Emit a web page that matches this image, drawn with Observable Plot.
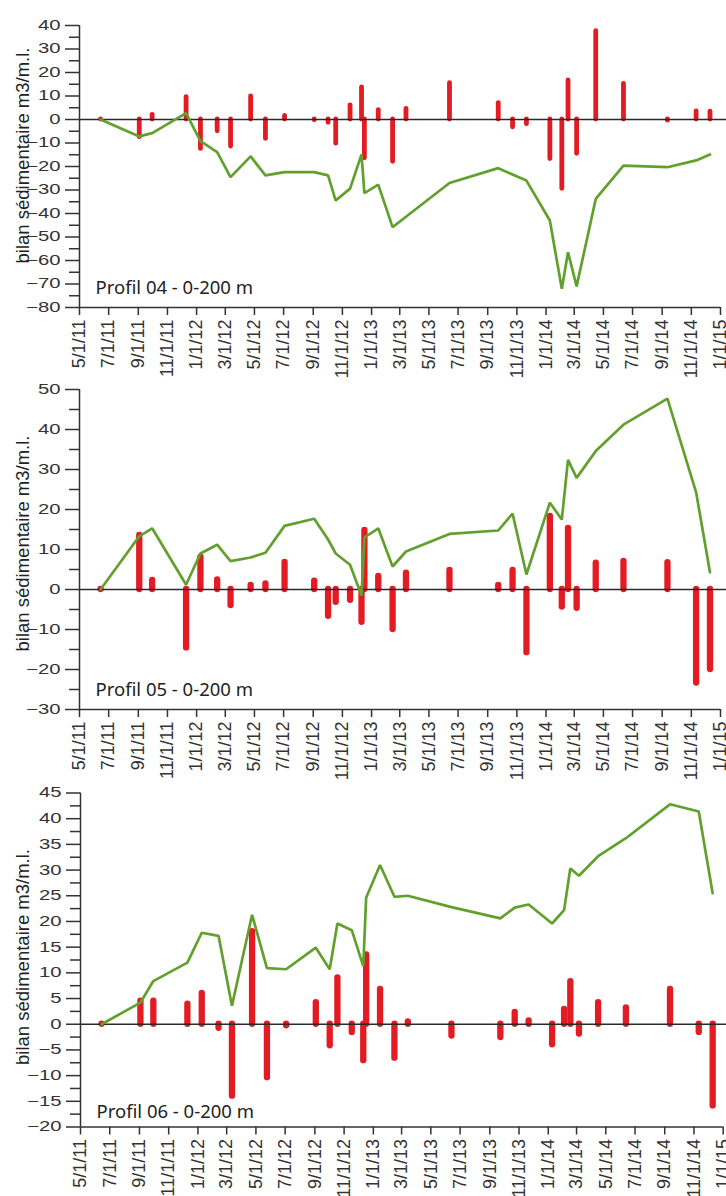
<!DOCTYPE html>
<html><head><meta charset="utf-8">
<script src="https://cdn.jsdelivr.net/npm/d3@7"></script>
<script src="https://cdn.jsdelivr.net/npm/@observablehq/plot@0.6"></script>
<style>
html,body{margin:0;padding:0;background:#fff;}
#chart{width:726px;}
#chart svg{display:block;overflow:visible;}
</style></head><body><div id="chart"></div>
<script>
// survey dates (shared by the three profiles)
const surveyDates = ["2011-06-14","2011-09-03","2011-09-30","2011-12-10","2012-01-09","2012-02-13","2012-03-12","2012-04-23","2012-05-24","2012-07-03","2012-09-03","2012-10-02","2012-10-18","2012-11-17","2012-12-11","2012-12-17","2013-01-15","2013-02-14","2013-03-14","2013-06-13","2013-09-23","2013-10-23","2013-11-21","2014-01-09","2014-02-03","2014-02-16","2014-03-06","2014-04-15","2014-06-12","2014-09-12","2014-11-11","2014-12-10"];

// Profil 04 : bilan entre levés (barres) et bilan cumulé (ligne)
const bilan04 = [0,-7.5,2,9.5,-12.5,-5,-11.5,9.8,-8.2,1.5,-0.3,-1.4,-10.3,6,13.7,-16.5,4,-18,4.5,15.5,7,-3.3,-2,-16.8,-29.5,16.6,-14.6,37.6,15.2,-0.5,3.5,3.3];
const cumul04 = [0,-7.2,-5.8,2.7,-9.2,-13.9,-24.5,-15.7,-23.8,-22.4,-22.4,-23.8,-34.5,-29.4,-14.9,-31.3,-27.7,-45.8,-41.4,-27,-20.7,-23.4,-26,-43,-72,-56.5,-71,-33.8,-19.6,-20.3,-17.4,-14.9];

// Profil 05
const bilan05 = [0,13.5,2.25,-14.6,8.1,2.4,-4,1,1.4,6.8,2.1,-6.7,-3.2,-2.7,-8.2,14.75,3.25,-10,4.1,4.75,1,4.75,-15.8,18.3,-4.4,15.3,-4.7,6.6,7,6.7,-23.4,-20];
const cumul05 = [0,13.3,15.3,1.2,9,11.2,7.1,8,9.2,15.9,17.7,12.5,9,6.2,-1.5,13,15.3,5.75,9.5,13.9,14.75,19,3.75,21.7,17.5,32.4,27.9,34.6,41.2,47.7,24.3,4.3];

// Profil 06
const bilan06 = [0,4.5,4.5,3.9,6,-0.8,-14,18,-10.4,-0.3,4.2,-4.2,9,-1.6,-7.1,13.5,6.8,-6.6,0.45,-2.3,-2.6,2.3,0.65,-4,2.9,8.3,-1.9,4.2,3.2,6.8,-1.6,-15.9];
const cumul06 = [0,4.2,8.4,12,17.8,17.2,3.6,21.3,10.9,10.7,14.9,10.7,19.6,18.3,11.3,24.6,31,24.8,25,22.8,20.6,22.7,23.3,19.6,22.2,30.3,28.9,32.7,36.2,42.8,41.4,25.5];

// tick labels
const xTickLabels = ["5/1/11","7/1/11","9/1/11","11/1/11","1/1/12","3/1/12","5/1/12","7/1/12","9/1/12","11/1/12","1/1/13","3/1/13","5/1/13","7/1/13","9/1/13","11/1/13","1/1/14","3/1/14","5/1/14","7/1/14","9/1/14","11/1/14","1/1/15"];
const yMajor04 = [-80,-70,-60,-50,-40,-30,-20,-10,0,10,20,30,40];
const yMinor04 = [-75,-65,-55,-45,-35,-25,-15,-5,5,15,25,35];
const yMajor05 = [-30,-20,-10,0,10,20,30,40,50];
const yMinor05 = [-25,-15,-5,5,15,25,35,45];
const yMajor06 = [-20,-15,-10,-5,0,5,10,15,20,25,30,35,40,45];
const yMinor06 = [-17.5,-12.5,-7.5,-2.5,2.5,7.5,12.5,17.5,22.5,27.5,32.5,37.5,42.5];
const titles = ["Profil 04 - 0-200 m","Profil 05 - 0-200 m","Profil 06 - 0-200 m"];
const yTitle = "bilan sédimentaire m3/m.l.";

const RED = "#e31b23", GREEN = "#62a02d", AX = "#333";
const parseTick = d3.utcParse("%m/%d/%y");
const xTicks = xTickLabels.map(parseTick);
const fmt = d3.utcFormat("%-m/%-d/%y");
const dates = surveyDates.map(s => new Date(s + "T00:00:00Z"));

function panel(o) {
  const rows = dates.map((d, i) => ({date: d, bar: o.bars[i], cum: o.line[i]}));
  const svg = Plot.plot({
    width: 726, height: o.height,
    marginTop: o.mt, marginBottom: o.mb, marginLeft: o.ml, marginRight: o.mr,
    style: {overflow: "visible", fontFamily: "'Liberation Sans', Arial, sans-serif", color: AX, background: "transparent"},
    x: {type: "utc", domain: [xTicks[0], xTicks[xTicks.length - 1]]},
    y: {domain: o.yDomain},
    marks: [
      Plot.ruleX(rows, {x: "date", y1: 0, y2: "bar", stroke: RED, strokeWidth: o.bw, strokeLinecap: "round"}),
      Plot.ruleY([0], {stroke: "#2a2a2a", strokeWidth: 1.4, insetRight: -6}),
      Plot.line(rows, {x: "date", y: "cum", stroke: GREEN, strokeWidth: 2.7, strokeLinejoin: "miter"}),
      Plot.axisX(xTicks, {tickFormat: fmt, tickRotate: -90, tickSize: 8, tickPadding: 4, fontSize: 18, label: null, stroke: AX, strokeWidth: 1.5, fill: "#333"}),
      Plot.axisY(o.yMajor, {tickSize: 14, tickPadding: 5, fontSize: 14, label: null, stroke: AX, strokeWidth: 1.5, fill: "#333"}),
      Plot.axisY(o.yMinor, {tickSize: 10, tickFormat: () => "", label: null, stroke: AX, strokeWidth: 1.5}),
      Plot.ruleX([xTicks[0]], {stroke: AX, strokeWidth: 1.5}),
      Plot.ruleY([o.yDomain[0]], {stroke: AX, strokeWidth: 1.5}),
      Plot.text([o.title], {frameAnchor: "bottom-left", textAnchor: "start", lineAnchor: "bottom", dx: 16, dy: o.tdy, fontSize: 18.5, fontFamily: "'Noto Sans', sans-serif", fill: "#222"}),
      Plot.text([yTitle], {frameAnchor: "left", rotate: -90, textAnchor: "middle", lineAnchor: "bottom", dx: o.ldx, dy: o.ldy, fontSize: 18.5, fill: "#222"})
    ]
  });
  d3.select(svg).selectAll('g[aria-label="y-axis tick label"] text').each(function() {
    const t = this.getAttribute("transform") || "";
    this.setAttribute("transform", t + " scale(1.45,1)");
  });
  return svg;
}

const root = document.getElementById("chart");
root.append(panel({title: titles[0], bars: bilan04, line: cumul04, yDomain: [-80, 40], yMajor: yMajor04, yMinor: yMinor04,
  height: 383, mt: 25, mb: 76, ml: 79, mr: 6, bw: 4.8, tdy: -13.7, ldx: -51, ldy: -11}));
root.append(panel({title: titles[1], bars: bilan05, line: cumul05, yDomain: [-30, 50], yMajor: yMajor05, yMinor: yMinor05,
  height: 403, mt: 6, mb: 77, ml: 79, mr: 6, bw: 6.3, tdy: -14, ldx: -51, ldy: -6}));
root.append(panel({title: titles[2], bars: bilan06, line: cumul06, yDomain: [-20, 45], yMajor: yMajor06, yMinor: yMinor06,
  height: 410, mt: 6.5, mb: 69.5, ml: 80, mr: 3.3, bw: 6.3, tdy: -9.5, ldx: -52, ldy: -3}));
</script></body></html>
